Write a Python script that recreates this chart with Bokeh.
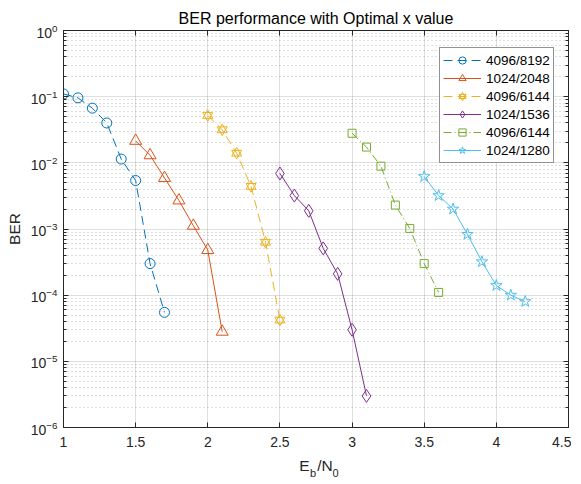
from bokeh.plotting import figure
from bokeh.models import (LogAxis, LinearAxis, Legend, LegendItem, FixedTicker,
                          CustomJSTickFormatter)
from bokeh.embed import file_html
from bokeh.resources import INLINE

# ---- data ----
ebn0_a = [1.0, 1.1, 1.2, 1.3, 1.4, 1.5, 1.6, 1.7]
ber_a = [0.11, 0.096, 0.067, 0.040, 0.0114, 0.0054, 3.0e-4, 5.5e-5]

ebn0_b = [1.5, 1.6, 1.7, 1.8, 1.9, 2.0, 2.1]
ber_b = [0.0215, 0.013, 0.0059, 0.0027, 0.00112, 4.8e-4, 2.8e-5]

ebn0_c = [2.0, 2.1, 2.2, 2.3, 2.4, 2.5]
ber_c = [0.052, 0.0316, 0.014, 0.0044, 6.3e-4, 4.2e-5]

ebn0_d = [2.5, 2.6, 2.7, 2.8, 2.9, 3.0, 3.1]
ber_d = [0.0069, 0.0032, 0.00188, 5.1e-4, 2.1e-4, 3.0e-5, 3.0e-6]

ebn0_e = [3.0, 3.1, 3.2, 3.3, 3.4, 3.5, 3.6]
ber_e = [0.028, 0.0173, 0.0089, 0.0023, 0.00102, 3.0e-4, 1.1e-4]

ebn0_f = [3.5, 3.6, 3.7, 3.8, 3.9, 4.0, 4.1, 4.2]
ber_f = [0.0062, 0.0032, 0.0020, 8.3e-4, 3.2e-4, 1.4e-4, 1.0e-4, 8.0e-5]

series_labels = ["4096/8192", "1024/2048", "4096/6144", "1024/1536", "4096/6144", "1024/1280"]
colors = ["#0072BD", "#D95319", "#EDB120", "#7E2F8E", "#77AC30", "#4DBEEE"]

x_ticks = [1, 1.5, 2, 2.5, 3, 3.5, 4, 4.5]
y_exponents = [-6, -5, -4, -3, -2, -1, 0]
y_ticks = [10.0 ** e for e in y_exponents]
y_minor = [m * 10.0 ** e for e in y_exponents[:-1] for m in range(2, 10)]

FONT = "Liberation Sans"
AX = "#262626"

p = figure(frame_width=505, frame_height=397, y_axis_type="log",
           x_range=(1, 4.5), y_range=(1e-6, 1),
           output_backend="svg", toolbar_location=None,
           min_border_left=63, min_border_top=30, min_border_bottom=47, min_border_right=3,
           title="BER performance with Optimal x value")
p.background_fill_color = "white"
p.border_fill_color = "white"
p.outline_line_color = AX

p.title.align = "center"
p.title.text_font = FONT
p.title.text_font_size = "16px"
p.title.text_font_style = "normal"
p.title.text_color = "black"
p.title.standoff = 8

xt = FixedTicker(ticks=x_ticks)
yt = FixedTicker(ticks=y_ticks, minor_ticks=y_minor)
p.xaxis.ticker = xt
p.yaxis.ticker = yt


def style_axis(ax):
    ax.axis_line_color = AX
    ax.major_tick_line_color = AX
    ax.minor_tick_line_color = AX
    ax.major_tick_in = 5
    ax.major_tick_out = 0
    ax.minor_tick_in = 3
    ax.minor_tick_out = 0
    ax.major_label_text_font = FONT
    ax.major_label_text_color = AX
    ax.major_label_text_font_size = "14px"


style_axis(p.xaxis[0])
style_axis(p.yaxis[0])
p.xaxis[0].major_label_standoff = 9
p.yaxis[0].major_label_standoff = 6
p.yaxis[0].axis_label = "BER"
p.yaxis[0].axis_label_text_font = FONT
p.yaxis[0].axis_label_text_font_size = "15.5px"
p.yaxis[0].axis_label_text_font_style = "normal"
p.yaxis[0].axis_label_text_color = AX
p.yaxis[0].axis_label_standoff = 5

# x axis label: E_b/N_0 -> main letters on the axis, subscripts on a helper axis below
p.xaxis[0].axis_label = "E\u2002/N"
p.xaxis[0].axis_label_text_font = FONT
p.xaxis[0].axis_label_text_font_size = "15.5px"
p.xaxis[0].axis_label_text_font_style = "normal"
p.xaxis[0].axis_label_text_color = AX
p.xaxis[0].axis_label_standoff = 7

sub = LinearAxis(ticker=FixedTicker(ticks=[]), axis_label="\u2003\u2002b\u2003\u20020")
sub.axis_line_color = None
sub.major_tick_line_color = None
sub.minor_tick_line_color = None
sub.axis_label_text_font = FONT
sub.axis_label_text_font_size = "11px"
sub.axis_label_text_font_style = "normal"
sub.axis_label_text_color = AX
sub.axis_label_standoff = -10
p.add_layout(sub, "below")

# box ticks on top and right (no labels)
top = LinearAxis(ticker=xt, formatter=CustomJSTickFormatter(code="return ''"))
style_axis(top)
top.major_label_standoff = 0
p.add_layout(top, "above")
right = LogAxis(ticker=yt, formatter=CustomJSTickFormatter(code="return ''"))
style_axis(right)
right.major_label_standoff = 0
p.add_layout(right, "right")

p.xgrid.grid_line_color = AX
p.xgrid.grid_line_alpha = 0.15
p.ygrid.grid_line_color = AX
p.ygrid.grid_line_alpha = 0.15
p.ygrid.minor_grid_line_color = AX
p.ygrid.minor_grid_line_alpha = 0.3
p.ygrid.minor_grid_line_dash = "1 3"

items = []


def add_series(xs, ys, color, dash, markers, sizes, label):
    rs = [p.line(xs, ys, line_color=color, line_width=1, line_dash=dash)]
    for mk, sz in zip(markers, sizes):
        rs.append(p.scatter(xs, ys, marker=mk, size=sz, line_color=color,
                            fill_color=None, line_width=1))
    items.append(LegendItem(label=label, renderers=rs))


add_series(ebn0_a, ber_a, colors[0], "9 5", ["circle"], [10], series_labels[0])
add_series(ebn0_b, ber_b, colors[1], "solid", ["triangle"], [12], series_labels[1])
add_series(ebn0_c, ber_c, colors[2], "9 5", ["triangle", "inverted_triangle"], [10, 10], series_labels[2])
add_series(ebn0_d, ber_d, colors[3], "solid", ["diamond"], [13], series_labels[3])
add_series(ebn0_e, ber_e, colors[4], "8 3 1 3", ["square"], [8], series_labels[4])
add_series(ebn0_f, ber_f, colors[5], "solid", ["star"], [12], series_labels[5])

legend = Legend(items=items, location=(376, 264))
legend.border_line_color = AX
legend.border_line_width = 1
legend.background_fill_color = "white"
legend.background_fill_alpha = 1
legend.label_text_font = FONT
legend.label_text_font_size = "13.5px"
legend.label_text_color = "black"
legend.glyph_width = 38
legend.glyph_height = 18
legend.label_height = 18
legend.label_width = 64
legend.label_standoff = 5
legend.spacing = 0
legend.padding = 3
legend.margin = 0
p.add_layout(legend)

open("out.html", "w").write(file_html(p, INLINE))
